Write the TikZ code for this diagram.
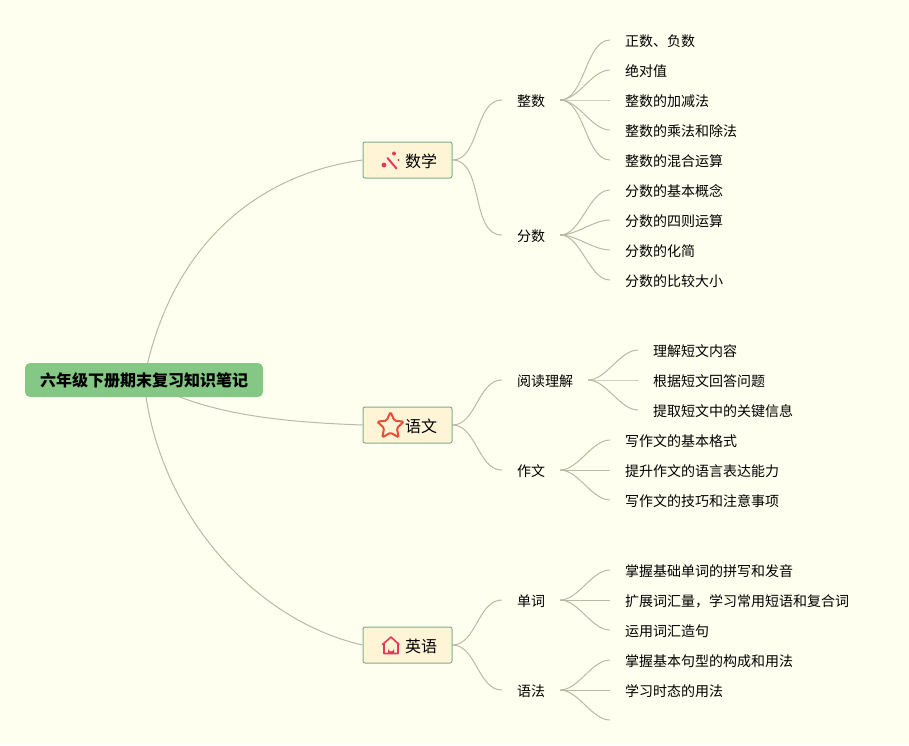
\documentclass[tikz,border=0pt]{standalone}
\usepackage{fontspec}
\setmainfont{Noto Sans CJK SC}
\usepackage{tikz}
\usetikzlibrary{shapes.geometric}
\usepackage{xcolor}
\definecolor{paper}{HTML}{FFFFF0}
\definecolor{rootgreen}{HTML}{85C785}
\definecolor{subjectfill}{HTML}{FFF4D6}
\definecolor{subjectline}{HTML}{7FAF8A}
\definecolor{twigline}{HTML}{B9B9A6}
\definecolor{iconred}{HTML}{E8385A}
\definecolor{starred}{HTML}{E8503A}
\pgfdeclarelayer{paperlayer}
\pgfdeclarelayer{linklayer}
\pgfsetlayers{paperlayer,linklayer,main}

\begin{document}
\begin{tikzpicture}[
  x=1pt, y=-1pt,
  every node/.style={font=\fontsize{14}{16}\selectfont, text=black},
  rootbox/.style={fill=rootgreen, rounded corners=5pt, minimum width=238pt,
                  minimum height=34pt, inner sep=0pt, text height=15pt, text depth=1.4pt,
                  font=\fontsize{16}{18}\selectfont\bfseries},
  subject/.style={draw=subjectline, fill=subjectfill, rounded corners=2pt, line width=1pt,
                  minimum width=89pt, minimum height=36pt, inner sep=0pt,
                  text width=89pt, align=left, text height=15.6pt, text depth=1.4pt,
                  font=\fontsize{16}{18}\selectfont},
  branch/.style={inner xsep=15pt, inner ysep=1pt, text height=14pt, text depth=1.4pt},
  leaf/.style={anchor=west, inner xsep=15pt, inner ysep=1pt, text height=14pt, text depth=1.4pt},
  twig/.style={draw=twigline, line width=1pt},
  iconstroke/.style={draw=iconred, line width=1.6pt, line cap=round, line join=round}
]
  \useasboundingbox (0,0) rectangle (909,745);
  \begin{pgfonlayer}{paperlayer}
    \fill[paper] (0,0) rectangle (909,745);
  \end{pgfonlayer}

  \node[rootbox] (root) at (144, 380) {六年级下册期末复习知识笔记};

  % Three subjects
  \node[subject] (math) at (407.5, 160) {\hspace{42pt}数学};
  \node[subject] (chinese) at (407.5, 425) {\hspace{42pt}语文};
  \node[subject] (english) at (407.5, 645) {\hspace{42pt}英语};

  % Icons
  \draw[iconstroke, line width=2pt] (387.5, 158) -- (396.5, 168.5);
  \fill[iconred] (394, 153.5) circle (2) (384, 165) circle (2.4) (398.5, 160) circle (1.1);
  \node[star, star points=5, star point ratio=2.1, minimum size=28pt, inner sep=0pt,
        draw=starred, fill=subjectfill, line width=2pt, rounded corners=1.5pt] (staricon) at (390.5, 426) {};
  \draw[iconstroke] (382.5, 644.5) -- (391, 637) -- (399, 644.5)
    (384, 643) -- (384, 653.5) -- (398, 653.5) -- (398, 643);
  \fill[iconred] (388, 653.5) -- (388, 648.5) arc[start angle=180, end angle=0, radius=3] -- (394, 653.5) -- cycle;

  % Branches
  \node[branch] (integer) at (531, 100) {整数};
  \node[branch] (fraction) at (531, 235) {分数};
  \node[branch] (reading) at (545, 380) {阅读理解};
  \node[branch] (writing) at (531, 470) {作文};
  \node[branch] (words) at (531, 600) {单词};
  \node[branch] (grammar) at (531, 690) {语法};

  % Integer leaves
  \node[leaf] (i1) at (610, 40) {正数、负数};
  \node[leaf] (i2) at (610, 70) {绝对值};
  \node[leaf] (i3) at (610, 100) {整数的加减法};
  \node[leaf] (i4) at (610, 130) {整数的乘法和除法};
  \node[leaf] (i5) at (610, 160) {整数的混合运算};

  % Fraction leaves
  \node[leaf] (f1) at (610, 190) {分数的基本概念};
  \node[leaf] (f2) at (610, 220) {分数的四则运算};
  \node[leaf] (f3) at (610, 250) {分数的化简};
  \node[leaf] (f4) at (610, 280) {分数的比较大小};

  % Reading leaves
  \node[leaf] (r1) at (638, 350) {理解短文内容};
  \node[leaf] (r2) at (638, 380) {根据短文回答问题};
  \node[leaf] (r3) at (638, 410) {提取短文中的关键信息};

  % Writing leaves
  \node[leaf] (w1) at (610, 440) {写作文的基本格式};
  \node[leaf] (w2) at (610, 470) {提升作文的语言表达能力};
  \node[leaf] (w3) at (610, 500) {写作文的技巧和注意事项};

  % Words leaves
  \node[leaf] (v1) at (610, 570) {掌握基础单词的拼写和发音};
  \node[leaf] (v2) at (610, 600) {扩展词汇量，学习常用短语和复合词};
  \node[leaf] (v3) at (610, 630) {运用词汇造句};

  % Grammar leaves
  \node[leaf] (g1) at (610, 660) {掌握基本句型的构成和用法};
  \node[leaf] (g2) at (610, 690) {学习时态的用法};
  \coordinate (g3) at (610, 720);

  \begin{pgfonlayer}{linklayer}
    \draw[twig] (root.center) .. controls +(25,-130) and +(-110,15) .. (math.west);
    \draw[twig] (root.center) .. controls +(60,35) and +(-80,-3) .. (chinese.west);
    \draw[twig] (root.center) .. controls +(12,130) and +(-110,-25) .. (english.west);

    \foreach \from/\to in {math/integer, math/fraction, chinese/reading, chinese/writing,
                           english/words, english/grammar}
      \draw[twig] (\from.east) to[out=0, in=180, looseness=0.9] (\to.west);

    \foreach \from/\to in {integer/i1, integer/i2, integer/i3, integer/i4, integer/i5,
                           fraction/f1, fraction/f2, fraction/f3, fraction/f4,
                           reading/r1, reading/r2, reading/r3,
                           writing/w1, writing/w2, writing/w3,
                           words/v1, words/v2, words/v3,
                           grammar/g1, grammar/g2}
      \draw[twig] (\from.east) to[out=0, in=180, looseness=0.8] (\to.west);
    \draw[twig] (grammar.east) to[out=0, in=180, looseness=0.8] (g3);
  \end{pgfonlayer}
\end{tikzpicture}
\end{document}
